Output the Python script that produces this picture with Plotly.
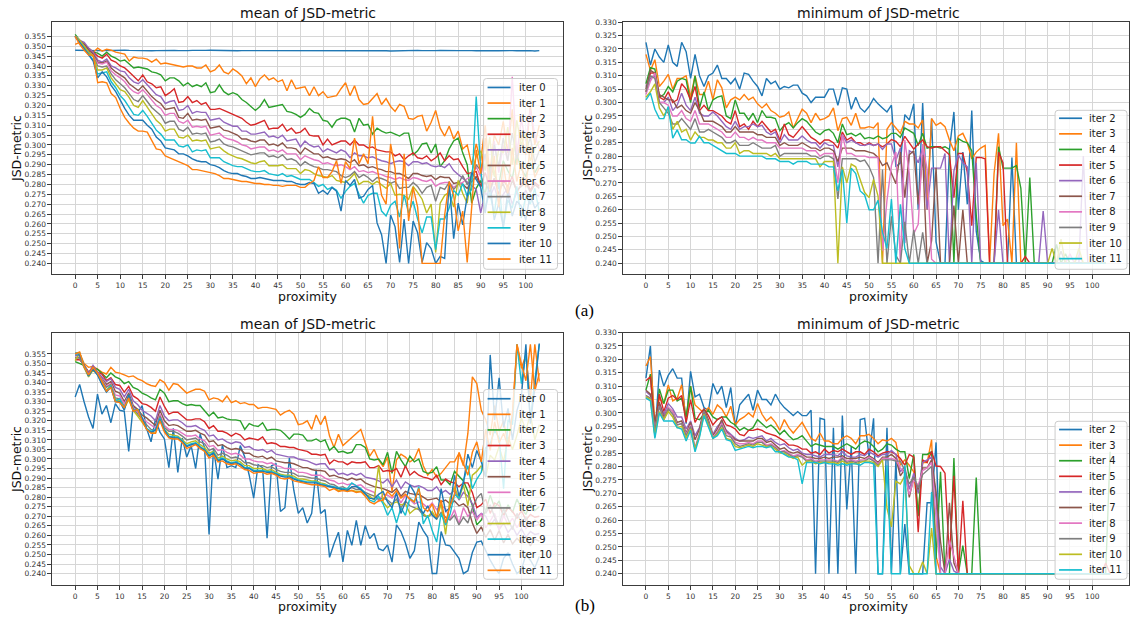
import plotly.graph_objects as go

# ---------------- data: (a) mean of JSD-metric, proximity 0..103 ----------------
a_mean_0 = [0.3480,0.3479,0.3478,0.3478,0.3477,0.3478,0.3478,0.3479,0.3478,0.3478,
0.3479,0.3480,0.3479,0.3478,0.3478,0.3479,0.3478,0.3477,0.3478,0.3479,
0.3478,0.3478,0.3479,0.3478,0.3477,0.3478,0.3479,0.3478,0.3478,0.3479,
0.3480,0.3479,0.3478,0.3478,0.3479,0.3478,0.3477,0.3478,0.3478,0.3479,
0.3478,0.3479,0.3478,0.3477,0.3478,0.3479,0.3478,0.3478,0.3477,0.3478,
0.3479,0.3478,0.3478,0.3479,0.3480,0.3479,0.3478,0.3477,0.3478,0.3478,
0.3477,0.3478,0.3479,0.3478,0.3478,0.3477,0.3478,0.3479,0.3478,0.3477,
0.3476,0.3477,0.3478,0.3478,0.3477,0.3478,0.3479,0.3478,0.3477,0.3478,
0.3478,0.3479,0.3478,0.3478,0.3477,0.3478,0.3478,0.3479,0.3478,0.3477,
0.3478,0.3478,0.3479,0.3478,0.3477,0.3478,0.3479,0.3478,0.3477,0.3478,
0.3477,0.3478,0.3476,0.3478]
a_mean_1 = [0.351,0.352,0.350,0.348,0.347,0.349,0.3475,0.3485,0.348,0.347,
0.3465,0.346,0.3425,0.3445,0.344,0.344,0.3435,0.342,0.3435,0.341,
0.3415,0.341,0.3405,0.340,0.3395,0.340,0.340,0.339,0.339,0.3405,
0.337,0.338,0.3405,0.337,0.336,0.3385,0.337,0.335,0.331,0.334,
0.3295,0.3335,0.3355,0.333,0.334,0.332,0.333,0.3275,0.333,0.3285,
0.329,0.3295,0.325,0.3295,0.325,0.327,0.324,0.3245,0.325,0.3285,
0.3315,0.325,0.330,0.323,0.3205,0.321,0.3235,0.326,0.3205,0.3235,
0.3195,0.317,0.3205,0.3195,0.3135,0.313,0.3145,0.315,0.307,0.3115,
0.3175,0.3085,0.3045,0.3095,0.303,0.307,0.298,0.300,0.290,0.3005,
0.292,0.310,0.285,0.305,0.300,0.312,0.296,0.318,0.290,0.305,
0.295,0.320,0.300,0.310]
a_mean_2 = [0.356,0.353,0.350,0.349,0.347,0.3465,0.345,0.347,0.345,0.344,
0.3425,0.343,0.341,0.339,0.3395,0.339,0.3385,0.337,0.3365,0.3355,
0.3325,0.334,0.334,0.3325,0.330,0.3315,0.3295,0.3305,0.3295,0.3315,
0.3265,0.327,0.3305,0.327,0.3255,0.3265,0.3255,0.323,0.3215,0.3195,
0.3175,0.3195,0.323,0.319,0.3195,0.320,0.3205,0.317,0.3165,0.3155,
0.314,0.3155,0.3185,0.3165,0.316,0.3125,0.312,0.309,0.3125,0.3135,
0.3135,0.3125,0.3065,0.3135,0.310,0.3105,0.3055,0.3085,0.307,0.306,
0.3065,0.3055,0.3045,0.306,0.306,0.295,0.297,0.3005,0.301,0.296,
0.3005,0.289,0.292,0.298,0.302,0.3035,0.296,0.290,0.2705,0.278,
0.282,0.275,0.290,0.285,0.280,0.292,0.287,0.283,0.295,0.288,
0.284,0.291,0.286,0.290]
a_mean_3 = [0.355,0.352,0.351,0.349,0.3475,0.345,0.344,0.346,0.343,0.342,
0.340,0.339,0.337,0.335,0.3325,0.3355,0.332,0.331,0.329,0.3295,
0.325,0.3265,0.3285,0.3215,0.322,0.3245,0.3215,0.3225,0.3205,0.3215,
0.318,0.318,0.3185,0.3175,0.3165,0.3155,0.3145,0.3135,0.3115,0.310,
0.3105,0.3115,0.3125,0.308,0.3085,0.3085,0.3105,0.307,0.3085,0.306,
0.3065,0.3085,0.305,0.3045,0.3045,0.300,0.303,0.300,0.301,0.302,
0.302,0.300,0.3025,0.300,0.300,0.2985,0.299,0.2975,0.297,0.2965,
0.2965,0.2945,0.2955,0.2925,0.2945,0.296,0.2935,0.293,0.2945,0.292,
0.2935,0.296,0.292,0.2945,0.2925,0.293,0.289,0.2855,0.286,0.2865,
0.279,0.286,0.278,0.283,0.275,0.282,0.279,0.284,0.276,0.280,
0.283,0.277,0.281,0.279]
a_mean_4 = [0.355,0.353,0.352,0.349,0.347,0.343,0.342,0.3435,0.340,0.339,
0.3375,0.337,0.334,0.332,0.331,0.333,0.3305,0.328,0.3255,0.3245,
0.321,0.322,0.3225,0.3175,0.318,0.320,0.316,0.317,0.3165,0.3165,
0.3125,0.313,0.3135,0.3115,0.3105,0.3095,0.3095,0.307,0.307,0.3055,
0.3055,0.306,0.3065,0.304,0.3045,0.3035,0.305,0.302,0.3025,0.303,
0.299,0.302,0.300,0.299,0.2995,0.2965,0.298,0.297,0.296,0.2975,
0.2965,0.2935,0.296,0.2945,0.2945,0.2935,0.294,0.293,0.292,0.2915,
0.2905,0.2915,0.292,0.2915,0.2895,0.2915,0.2915,0.2905,0.291,0.2895,
0.289,0.2895,0.2885,0.2905,0.287,0.285,0.283,0.281,0.279,0.2775,
0.2656,0.276,0.273,0.279,0.271,0.275,0.278,0.270,0.276,0.273,
0.277,0.272,0.275,0.274]
a_mean_5 = [0.355,0.353,0.351,0.348,0.346,0.342,0.3415,0.3425,0.339,0.337,
0.3355,0.334,0.331,0.329,0.3275,0.330,0.327,0.3245,0.3225,0.321,
0.318,0.3185,0.319,0.314,0.3135,0.316,0.3125,0.313,0.3125,0.313,
0.3085,0.309,0.3095,0.3075,0.307,0.306,0.305,0.303,0.303,0.302,
0.3015,0.3025,0.3025,0.300,0.3005,0.2995,0.301,0.2985,0.2985,0.298,
0.2955,0.2985,0.297,0.2955,0.2955,0.2935,0.294,0.293,0.2925,0.293,
0.2925,0.291,0.2925,0.2895,0.290,0.2885,0.289,0.288,0.2875,0.2865,
0.2865,0.2855,0.2855,0.2845,0.283,0.2855,0.2855,0.2845,0.284,0.2845,
0.2825,0.284,0.2835,0.2835,0.2805,0.281,0.280,0.278,0.2815,0.284,
0.279,0.281,0.276,0.283,0.278,0.280,0.275,0.282,0.277,0.279,
0.281,0.276,0.280,0.278]
a_mean_6 = [0.355,0.353,0.350,0.347,0.345,0.3415,0.341,0.342,0.3375,0.3355,
0.334,0.332,0.329,0.327,0.326,0.328,0.3255,0.3225,0.320,0.3185,
0.315,0.316,0.316,0.312,0.311,0.3125,0.309,0.3095,0.309,0.3095,
0.305,0.3055,0.306,0.304,0.303,0.3025,0.3015,0.300,0.2995,0.298,
0.2985,0.299,0.299,0.297,0.2975,0.2965,0.2975,0.2955,0.2955,0.2955,
0.2925,0.2945,0.2935,0.2925,0.292,0.2905,0.291,0.290,0.2895,0.290,
0.289,0.2875,0.289,0.2865,0.287,0.286,0.2865,0.2855,0.285,0.284,
0.2835,0.2825,0.2835,0.2825,0.282,0.2835,0.283,0.282,0.2815,0.2825,
0.279,0.2805,0.281,0.281,0.2785,0.280,0.281,0.283,0.284,0.289,
0.284,0.2955,0.278,0.302,0.286,0.300,0.292,0.3345,0.295,0.313,
0.302,0.318,0.305,0.298]
a_mean_7 = [0.355,0.353,0.350,0.347,0.345,0.340,0.3395,0.340,0.336,0.333,
0.331,0.329,0.326,0.323,0.322,0.325,0.322,0.319,0.317,0.315,
0.311,0.312,0.312,0.308,0.307,0.309,0.3055,0.306,0.3055,0.306,
0.3015,0.302,0.303,0.3005,0.2995,0.299,0.298,0.297,0.296,0.295,
0.2955,0.296,0.296,0.294,0.2945,0.2935,0.295,0.2925,0.293,0.292,
0.2895,0.2915,0.290,0.289,0.2885,0.2875,0.2875,0.287,0.2865,0.2845,
0.2835,0.2845,0.2865,0.2835,0.285,0.2835,0.2815,0.2835,0.283,0.282,
0.2805,0.2815,0.278,0.2785,0.2785,0.281,0.279,0.2755,0.2785,0.2795,
0.2715,0.2785,0.2775,0.281,0.2775,0.280,0.2845,0.280,0.2825,0.290,
0.287,0.2955,0.2825,0.300,0.289,0.3035,0.292,0.306,0.293,0.301,
0.296,0.304,0.291,0.297]
a_mean_8 = [0.355,0.353,0.350,0.347,0.345,0.338,0.338,0.339,0.334,0.331,
0.328,0.327,0.324,0.320,0.319,0.3225,0.319,0.3155,0.3125,0.3105,
0.307,0.308,0.308,0.304,0.3035,0.305,0.302,0.3025,0.302,0.3025,
0.298,0.2985,0.299,0.297,0.2955,0.2945,0.2935,0.293,0.292,0.291,
0.2905,0.2915,0.292,0.2895,0.2895,0.2895,0.290,0.288,0.288,0.288,
0.2855,0.2875,0.287,0.2855,0.2845,0.284,0.2835,0.2845,0.282,0.2815,
0.281,0.283,0.2855,0.280,0.2815,0.2815,0.280,0.2815,0.2795,0.278,
0.2805,0.2745,0.275,0.2745,0.2725,0.279,0.276,0.2725,0.2655,0.270,
0.2455,0.2705,0.2745,0.276,0.2685,0.282,0.2755,0.2705,0.286,0.294,
0.297,0.287,0.304,0.284,0.298,0.296,0.309,0.290,0.3125,0.300,
0.306,0.292,0.298,0.302]
a_mean_9 = [0.355,0.352,0.349,0.346,0.343,0.336,0.3365,0.337,0.332,0.329,
0.325,0.3225,0.319,0.3155,0.315,0.3175,0.3145,0.311,0.3075,0.3055,
0.3025,0.3025,0.3025,0.2995,0.299,0.300,0.2965,0.2975,0.297,0.2975,
0.2935,0.2935,0.2935,0.2915,0.2905,0.2895,0.289,0.289,0.288,0.287,
0.2865,0.2865,0.287,0.2855,0.285,0.2845,0.2855,0.284,0.2845,0.2835,
0.2825,0.2825,0.2825,0.281,0.279,0.280,0.2775,0.2785,0.277,0.273,
0.2765,0.279,0.2805,0.275,0.2705,0.2745,0.2755,0.2755,0.2665,0.264,
0.2695,0.2715,0.2635,0.2745,0.2655,0.2715,0.2625,0.2555,0.2635,0.2635,
0.247,0.2625,0.2625,0.268,0.277,0.2745,0.2805,0.274,0.2775,0.3245,
0.2875,0.268,0.276,0.265,0.282,0.258,0.272,0.268,0.279,0.263,
0.274,0.270,0.278,0.266]
a_mean_10 = [0.355,0.352,0.349,0.346,0.3425,0.334,0.337,0.3345,0.330,0.327,
0.3225,0.3185,0.315,0.3125,0.3125,0.3125,0.310,0.308,0.304,0.302,
0.2985,0.298,0.2975,0.2955,0.2955,0.2945,0.293,0.292,0.2915,0.2915,
0.290,0.2895,0.2885,0.287,0.286,0.2855,0.2855,0.2845,0.284,0.283,
0.283,0.2835,0.283,0.2825,0.282,0.282,0.282,0.2815,0.2815,0.2805,
0.280,0.280,0.281,0.2805,0.2755,0.277,0.275,0.2785,0.2765,0.2665,
0.282,0.2795,0.2825,0.273,0.274,0.2775,0.2795,0.2605,0.2545,0.240,
0.2645,0.2585,0.2405,0.2625,0.240,0.2615,0.2555,0.2405,0.2505,0.2475,
0.240,0.2435,0.2425,0.2815,0.2525,0.2705,0.2595,0.274,0.286,0.2825,
0.2785,0.2655,0.2825,0.262,0.2705,0.2585,0.276,0.264,0.2715,0.269,
0.262,0.275,0.268,0.271]
a_mean_11 = [0.355,0.351,0.348,0.3455,0.3455,0.3315,0.332,0.3315,0.326,0.324,
0.3185,0.314,0.311,0.3085,0.307,0.307,0.3065,0.3025,0.298,0.2975,
0.2945,0.2935,0.2925,0.2915,0.2905,0.2895,0.2875,0.2875,0.287,0.2865,
0.286,0.2855,0.2845,0.283,0.283,0.2825,0.282,0.2815,0.2815,0.281,
0.2805,0.2805,0.280,0.280,0.2795,0.2795,0.279,0.2795,0.2795,0.2795,
0.2785,0.2785,0.2805,0.282,0.289,0.2835,0.2835,0.2865,0.292,0.2805,
0.2915,0.288,0.3035,0.2905,0.2955,0.2905,0.3145,0.289,0.2745,0.270,
0.3005,0.288,0.2475,0.2955,0.2615,0.2785,0.2685,0.240,0.240,0.240,
0.240,0.240,0.2645,0.2815,0.2745,0.2565,0.2665,0.2405,0.2685,0.2975,
0.2855,0.3035,0.2775,0.2945,0.2685,0.2905,0.2755,0.2985,0.2815,0.2905,
0.2785,0.2995,0.2835,0.2885]

# ---------------- data: (a) minimum of JSD-metric ----------------
a_min_2 = [0.3225,0.314,0.320,0.317,0.315,0.3215,0.315,0.3135,0.3225,0.319,
0.309,0.318,0.310,0.306,0.310,0.311,0.314,0.309,0.309,0.307,
0.309,0.305,0.311,0.3105,0.308,0.306,0.3025,0.309,0.307,0.308,
0.305,0.306,0.3055,0.3065,0.3065,0.3035,0.3025,0.300,0.302,0.302,
0.302,0.305,0.305,0.299,0.3055,0.305,0.2975,0.302,0.298,0.2965,
0.2985,0.3015,0.2995,0.298,0.2965,0.299,0.276,0.2775,0.2955,0.2935,
0.2995,0.260,0.2998,0.262,0.294,0.248,0.24,0.24,0.2825,0.2965,
0.260,0.2815,0.262,0.297,0.252,0.241,0.24,0.24,0.24,0.24,
0.24,0.24,0.2795,0.24,0.24,0.24,0.24,0.24,0.24,0.24,
0.24,0.24,0.24,0.24,0.24,0.24,0.24,0.24,0.24,0.24,
0.24,0.24,0.24,0.24]
a_min_3 = [0.318,0.312,0.316,0.306,0.308,0.3105,0.305,0.309,0.309,0.310,
0.302,0.310,0.303,0.303,0.308,0.301,0.3085,0.3055,0.298,0.301,
0.302,0.301,0.303,0.301,0.302,0.2995,0.298,0.2995,0.297,0.296,
0.2945,0.295,0.2965,0.2905,0.294,0.2975,0.296,0.2925,0.296,0.2935,
0.294,0.295,0.298,0.2895,0.294,0.2945,0.2915,0.296,0.2905,0.2905,
0.291,0.2905,0.2925,0.24,0.290,0.2925,0.2905,0.2885,0.293,0.292,
0.292,0.2905,0.2935,0.260,0.294,0.2915,0.2925,0.291,0.286,0.282,
0.2875,0.2885,0.285,0.279,0.2815,0.283,0.284,0.24,0.2735,0.2885,
0.254,0.2565,0.24,0.285,0.24,0.24,0.24,0.24,0.24,0.24,
0.24,0.24,0.24,0.24,0.24,0.24,0.24,0.24,0.24,0.24,
0.24,0.24,0.24,0.24]
a_min_4 = [0.307,0.313,0.3125,0.302,0.303,0.306,0.304,0.308,0.309,0.3085,
0.300,0.310,0.298,0.304,0.297,0.301,0.302,0.3025,0.295,0.294,
0.301,0.296,0.296,0.2935,0.296,0.2925,0.297,0.2945,0.2945,0.294,
0.2895,0.2915,0.2925,0.2905,0.2925,0.294,0.293,0.291,0.289,0.288,
0.2895,0.290,0.2885,0.285,0.292,0.288,0.2885,0.2875,0.2885,0.2865,
0.287,0.2865,0.2875,0.2865,0.287,0.2885,0.2885,0.287,0.2905,0.2895,
0.2885,0.284,0.2885,0.283,0.2835,0.2835,0.283,0.2835,0.2825,0.24,
0.2865,0.2855,0.285,0.282,0.258,0.24,0.24,0.24,0.24,0.2835,
0.2755,0.2755,0.2755,0.2765,0.268,0.24,0.272,0.24,0.24,0.24,
0.24,0.24,0.247,0.24,0.2435,0.24,0.24,0.24,0.24,0.24,
0.24,0.24,0.24,0.24]
a_min_5 = [0.304,0.311,0.311,0.302,0.301,0.304,0.300,0.301,0.307,0.305,
0.301,0.306,0.297,0.299,0.297,0.297,0.296,0.295,0.293,0.292,
0.297,0.291,0.292,0.290,0.293,0.291,0.293,0.291,0.289,0.290,
0.286,0.292,0.288,0.287,0.289,0.291,0.289,0.287,0.286,0.2845,
0.286,0.286,0.285,0.283,0.289,0.286,0.287,0.285,0.285,0.284,
0.285,0.284,0.2845,0.2835,0.2845,0.2862,0.2855,0.2835,0.2874,0.285,
0.2826,0.2845,0.286,0.2835,0.283,0.2835,0.2835,0.282,0.2805,0.2645,
0.281,0.281,0.274,0.254,0.2795,0.2795,0.279,0.24,0.24,0.2815,
0.2775,0.24,0.24,0.24,0.24,0.2425,0.24,0.24,0.24,0.24,
0.24,0.24,0.24,0.24,0.24,0.24,0.24,0.24,0.24,0.24,
0.24,0.24,0.24,0.24]
a_min_6 = [0.306,0.309,0.310,0.300,0.300,0.302,0.297,0.299,0.3035,0.299,
0.297,0.302,0.296,0.295,0.295,0.2965,0.295,0.293,0.291,0.290,
0.293,0.290,0.291,0.291,0.292,0.291,0.2915,0.289,0.288,0.289,
0.285,0.288,0.286,0.286,0.286,0.2875,0.286,0.285,0.285,0.283,
0.285,0.284,0.284,0.276,0.288,0.285,0.286,0.285,0.284,0.284,
0.2845,0.284,0.2845,0.2825,0.2845,0.2845,0.2785,0.283,0.2475,0.282,
0.281,0.2775,0.283,0.260,0.2755,0.2755,0.2755,0.281,0.24,0.2745,
0.2805,0.2775,0.276,0.24,0.2775,0.24,0.24,0.24,0.24,0.260,
0.24,0.24,0.24,0.24,0.24,0.24,0.24,0.24,0.24,0.2595,
0.24,0.24,0.24,0.24,0.24,0.24,0.24,0.24,0.280,0.24,
0.24,0.24,0.24,0.24]
a_min_7 = [0.305,0.312,0.311,0.303,0.302,0.301,0.301,0.298,0.299,0.297,
0.296,0.300,0.297,0.293,0.293,0.293,0.292,0.291,0.289,0.289,
0.291,0.289,0.289,0.289,0.289,0.288,0.288,0.287,0.287,0.287,
0.284,0.285,0.284,0.284,0.284,0.285,0.284,0.283,0.283,0.282,
0.283,0.283,0.282,0.278,0.283,0.283,0.283,0.282,0.282,0.282,
0.2815,0.281,0.2795,0.2765,0.2775,0.2735,0.2697,0.2815,0.2645,0.2805,
0.282,0.262,0.2805,0.24,0.2484,0.2756,0.24,0.24,0.24,0.2615,
0.24,0.260,0.24,0.24,0.24,0.24,0.24,0.24,0.24,0.24,
0.24,0.24,0.24,0.24,0.24,0.24,0.24,0.24,0.24,0.24,
0.24,0.24,0.24,0.24,0.24,0.24,0.24,0.24,0.24,0.24,
0.24,0.24,0.24,0.24]
a_min_8 = [0.303,0.308,0.311,0.300,0.300,0.299,0.295,0.295,0.297,0.294,
0.293,0.297,0.292,0.292,0.292,0.291,0.290,0.289,0.287,0.287,
0.289,0.287,0.287,0.286,0.287,0.286,0.286,0.285,0.285,0.285,
0.283,0.283,0.283,0.283,0.283,0.283,0.282,0.282,0.282,0.280,
0.281,0.281,0.281,0.270,0.288,0.281,0.281,0.280,0.280,0.280,
0.2795,0.2795,0.2795,0.2445,0.2635,0.2765,0.2815,0.24,0.286,0.2735,
0.251,0.2545,0.2845,0.275,0.2415,0.24,0.24,0.24,0.24,0.24,
0.24,0.24,0.24,0.24,0.24,0.24,0.24,0.24,0.24,0.24,
0.24,0.24,0.24,0.24,0.24,0.24,0.24,0.24,0.24,0.24,
0.24,0.24,0.24,0.24,0.24,0.2435,0.24,0.243,0.24,0.24,
0.24,0.24,0.24,0.24]
a_min_9 = [0.304,0.310,0.309,0.300,0.298,0.296,0.292,0.292,0.294,0.292,
0.290,0.294,0.289,0.289,0.290,0.289,0.288,0.287,0.285,0.285,
0.286,0.284,0.284,0.284,0.285,0.284,0.283,0.283,0.283,0.284,
0.280,0.281,0.281,0.281,0.281,0.281,0.281,0.280,0.280,0.279,
0.280,0.280,0.279,0.264,0.279,0.279,0.279,0.279,0.278,0.2785,
0.276,0.272,0.24,0.275,0.24,0.2575,0.243,0.24,0.2555,0.24,
0.2525,0.24,0.2515,0.24,0.24,0.24,0.24,0.24,0.24,0.24,
0.24,0.24,0.24,0.24,0.24,0.24,0.24,0.24,0.24,0.24,
0.24,0.24,0.24,0.24,0.24,0.24,0.24,0.24,0.24,0.24,
0.24,0.24,0.24,0.2445,0.24,0.24,0.24,0.24,0.24,0.24,
0.24,0.24,0.24,0.24]
a_min_10 = [0.302,0.304,0.307,0.298,0.295,0.298,0.290,0.293,0.289,0.290,
0.286,0.289,0.287,0.287,0.286,0.286,0.285,0.285,0.283,0.283,
0.285,0.281,0.282,0.282,0.281,0.281,0.281,0.281,0.280,0.281,
0.279,0.279,0.279,0.279,0.279,0.279,0.279,0.279,0.279,0.276,
0.278,0.278,0.278,0.24,0.276,0.270,0.277,0.276,0.2713,0.2664,
0.2645,0.2713,0.2651,0.24,0.24,0.24,0.24,0.24,0.24,0.24,
0.24,0.24,0.24,0.24,0.24,0.24,0.24,0.24,0.24,0.24,
0.24,0.24,0.24,0.24,0.24,0.24,0.24,0.24,0.24,0.24,
0.24,0.24,0.24,0.24,0.24,0.24,0.24,0.24,0.24,0.24,
0.24,0.2455,0.24,0.249,0.24,0.24,0.24,0.2455,0.24,0.24,
0.24,0.24,0.24,0.24]
a_min_11 = [0.301,0.3035,0.2975,0.294,0.294,0.2985,0.2867,0.2898,0.2861,0.2861,
0.2849,0.2849,0.2874,0.285,0.285,0.284,0.283,0.282,0.281,0.281,
0.281,0.280,0.280,0.280,0.280,0.280,0.280,0.279,0.279,0.279,
0.278,0.278,0.278,0.277,0.278,0.278,0.278,0.277,0.277,0.277,
0.277,0.276,0.276,0.267,0.275,0.255,0.2755,0.2735,0.267,0.2655,
0.260,0.260,0.2635,0.2515,0.2455,0.264,0.24,0.262,0.2455,0.24,
0.24,0.24,0.24,0.24,0.24,0.24,0.24,0.24,0.24,0.24,
0.24,0.24,0.24,0.24,0.24,0.24,0.24,0.24,0.24,0.24,
0.24,0.24,0.24,0.24,0.24,0.24,0.24,0.24,0.24,0.24,
0.24,0.24,0.24,0.24,0.24,0.24,0.24,0.24,0.24,0.24,
0.24,0.24,0.24,0.24]

# ---------------- data: (b) mean of JSD-metric, proximity 0..104 ----------------
b_mean_0 = [0.3325,0.339,0.330,0.322,0.316,0.334,0.3235,0.328,0.319,0.329,
0.3255,0.325,0.304,0.328,0.324,0.328,0.316,0.309,0.321,0.314,
0.3105,0.2955,0.316,0.293,0.311,0.301,0.307,0.295,0.313,0.306,
0.2605,0.3055,0.2895,0.3075,0.2955,0.2965,0.2955,0.307,0.301,0.2915,
0.2795,0.297,0.2955,0.2585,0.2965,0.2975,0.2725,0.2745,0.3005,0.2835,
0.2715,0.2745,0.2665,0.2715,0.2945,0.2715,0.2735,0.2485,0.2556,0.2617,
0.2461,0.2626,0.2548,0.2678,0.2548,0.2652,0.2583,0.261,0.253,0.252,
0.255,0.246,0.2655,0.262,0.256,0.248,0.252,0.267,0.2625,0.259,
0.240,0.240,0.262,0.255,0.2545,0.2515,0.248,0.240,0.2415,0.251,
0.2565,0.257,0.252,0.247,0.243,0.240,0.248,0.251,0.245,0.240,
0.242,0.250,0.247,0.243,0.249]
b_mean_1 = [0.3555,0.3555,0.350,0.348,0.3485,0.347,0.3455,0.3445,0.348,0.3455,
0.345,0.344,0.343,0.3435,0.342,0.341,0.3395,0.3385,0.338,0.3415,
0.340,0.336,0.3395,0.339,0.337,0.3345,0.3355,0.3365,0.3365,0.3355,
0.331,0.332,0.3315,0.330,0.333,0.3295,0.3305,0.329,0.3295,0.3285,
0.3285,0.3265,0.327,0.327,0.3265,0.326,0.323,0.3245,0.3255,0.3235,
0.318,0.3185,0.320,0.3155,0.323,0.318,0.3225,0.312,0.306,0.313,
0.307,0.309,0.311,0.3135,0.3155,0.3085,0.3015,0.305,0.2995,0.296,
0.301,0.283,0.2995,0.3025,0.301,0.2985,0.300,0.3055,0.2965,0.2915,
0.2945,0.2905,0.2925,0.2955,0.2985,0.2985,0.303,0.2965,0.3135,0.343,
0.3395,0.3255,0.3205,0.3125,0.328,0.3145,0.320,0.3075,0.3225,0.360,
0.3475,0.3545,0.331,0.360,0.3405]
b_mean_2 = [0.351,0.350,0.349,0.3455,0.3475,0.347,0.345,0.3425,0.345,0.343,
0.342,0.3395,0.3405,0.3375,0.3365,0.3345,0.3335,0.332,0.331,0.3365,
0.3345,0.330,0.3305,0.3305,0.329,0.328,0.3285,0.328,0.328,0.3255,
0.3225,0.3245,0.3215,0.322,0.321,0.3205,0.3205,0.320,0.3155,0.3185,
0.3175,0.317,0.319,0.315,0.3155,0.3155,0.315,0.313,0.3105,0.313,
0.313,0.3125,0.3095,0.3095,0.3105,0.309,0.310,0.3045,0.3065,0.3035,
0.304,0.303,0.3035,0.3075,0.3075,0.306,0.300,0.2995,0.300,0.297,
0.3035,0.2925,0.304,0.2995,0.296,0.3015,0.2985,0.300,0.2935,0.2925,
0.293,0.296,0.289,0.289,0.2865,0.2935,0.291,0.2885,0.283,0.2755,
0.2655,0.268,0.273,0.281,0.2745,0.278,0.270,0.276,0.272,0.279,
0.274,0.271,0.277,0.273,0.275]
b_mean_3 = [0.352,0.352,0.349,0.3455,0.347,0.3455,0.3445,0.341,0.3425,0.339,
0.3385,0.335,0.338,0.333,0.3315,0.329,0.3285,0.327,0.325,0.3325,
0.3275,0.3235,0.3245,0.3245,0.3225,0.3205,0.3205,0.321,0.321,0.3195,
0.316,0.3175,0.3145,0.3145,0.3135,0.312,0.3135,0.3125,0.310,0.311,
0.3105,0.310,0.3115,0.308,0.3085,0.308,0.3065,0.3065,0.306,0.306,
0.305,0.3045,0.304,0.3025,0.3025,0.302,0.3025,0.2975,0.2995,0.2985,
0.2985,0.297,0.2985,0.298,0.298,0.2985,0.2955,0.2955,0.2965,0.2935,
0.294,0.2935,0.295,0.2905,0.2965,0.2915,0.2935,0.2915,0.2905,0.290,
0.289,0.2915,0.2865,0.2895,0.288,0.2875,0.2855,0.2875,0.2875,0.2825,
0.2745,0.276,0.279,0.2715,0.277,0.2755,0.2705,0.2745,0.2725,0.269,
0.273,0.268,0.271,0.2695,0.270]
b_mean_4 = [0.354,0.354,0.349,0.345,0.349,0.3455,0.343,0.3405,0.342,0.3375,
0.3365,0.3325,0.3365,0.3305,0.3285,0.3255,0.324,0.3225,0.320,0.328,
0.3225,0.320,0.3205,0.3205,0.319,0.317,0.317,0.3175,0.316,0.315,
0.312,0.3125,0.310,0.3105,0.309,0.308,0.309,0.3085,0.306,0.3065,
0.305,0.3045,0.305,0.3035,0.3045,0.3025,0.302,0.3015,0.301,0.301,
0.300,0.2995,0.299,0.298,0.297,0.2975,0.2975,0.2945,0.2945,0.292,
0.2925,0.2915,0.2925,0.2915,0.2925,0.2905,0.290,0.2895,0.2885,0.2875,
0.2895,0.2855,0.289,0.2845,0.288,0.2865,0.2855,0.286,0.285,0.2835,
0.2835,0.2855,0.282,0.2835,0.2815,0.2835,0.2785,0.2825,0.2805,0.2765,
0.2695,0.2715,0.270,0.265,0.2685,0.263,0.2665,0.2615,0.2645,0.260,
0.2635,0.259,0.262,0.2605,0.261]
b_mean_5 = [0.353,0.353,0.349,0.344,0.348,0.345,0.342,0.339,0.3405,0.3355,
0.3345,0.330,0.3345,0.328,0.326,0.323,0.3215,0.3195,0.3175,0.3255,
0.320,0.3175,0.318,0.3175,0.316,0.3145,0.3145,0.315,0.3135,0.3125,
0.309,0.3095,0.307,0.3075,0.306,0.305,0.3055,0.305,0.303,0.303,
0.3015,0.301,0.3015,0.300,0.301,0.299,0.2985,0.298,0.298,0.2975,
0.2965,0.2955,0.2955,0.2945,0.294,0.294,0.2935,0.291,0.2915,0.2905,
0.290,0.289,0.290,0.289,0.2895,0.2875,0.2865,0.2855,0.285,0.2845,
0.2835,0.2825,0.2845,0.2805,0.283,0.282,0.2815,0.2815,0.280,0.2785,
0.279,0.2795,0.2775,0.2785,0.2765,0.278,0.2755,0.2765,0.2745,0.2665,
0.261,0.2645,0.259,0.263,0.2575,0.2625,0.256,0.2605,0.2555,0.2585,
0.256,0.2595,0.2545,0.258,0.257]
b_mean_6 = [0.3535,0.353,0.349,0.344,0.3475,0.345,0.3415,0.338,0.3395,0.3335,
0.333,0.329,0.333,0.327,0.3245,0.3215,0.3195,0.3175,0.316,0.3235,
0.3175,0.3155,0.3155,0.315,0.3135,0.312,0.312,0.3125,0.3105,0.3095,
0.3065,0.307,0.3045,0.305,0.3035,0.3025,0.303,0.302,0.300,0.300,
0.299,0.2985,0.2985,0.2975,0.298,0.2965,0.296,0.295,0.295,0.2945,
0.293,0.293,0.2925,0.2915,0.2915,0.2915,0.290,0.289,0.2885,0.287,
0.2875,0.2865,0.287,0.286,0.2865,0.2845,0.2835,0.2825,0.278,0.2815,
0.281,0.2795,0.2815,0.277,0.281,0.279,0.2765,0.2775,0.2765,0.2745,
0.277,0.2735,0.2755,0.274,0.2685,0.2735,0.266,0.2745,0.270,0.2725,
0.268,0.2715,0.264,0.2675,0.2715,0.263,0.2705,0.2655,0.269,0.264,
0.268,0.2635,0.267,0.265,0.266]
b_mean_7 = [0.353,0.353,0.348,0.3435,0.347,0.3445,0.341,0.3375,0.339,0.332,
0.3315,0.3275,0.332,0.326,0.3235,0.3205,0.318,0.3155,0.315,0.3225,
0.3165,0.3145,0.3145,0.3135,0.312,0.310,0.3105,0.311,0.309,0.308,
0.3045,0.3055,0.302,0.303,0.302,0.3005,0.301,0.300,0.298,0.298,
0.297,0.2965,0.2965,0.2955,0.296,0.2945,0.2935,0.293,0.293,0.2925,
0.291,0.291,0.2905,0.290,0.290,0.289,0.2885,0.287,0.2865,0.285,
0.2855,0.284,0.285,0.284,0.284,0.2825,0.2815,0.2805,0.279,0.2795,
0.2785,0.2765,0.279,0.2745,0.278,0.2755,0.2745,0.2735,0.2705,0.2695,
0.2715,0.2685,0.272,0.2695,0.268,0.2705,0.2655,0.2695,0.2665,0.2745,
0.2795,0.282,0.2715,0.276,0.2695,0.2655,0.274,0.2685,0.263,0.2715,
0.2665,0.2695,0.265,0.268,0.2665]
b_mean_8 = [0.3515,0.3555,0.348,0.343,0.3465,0.3445,0.3405,0.336,0.3385,0.331,
0.3305,0.3265,0.331,0.3255,0.3225,0.3195,0.316,0.314,0.3135,0.321,
0.3155,0.313,0.3125,0.312,0.310,0.308,0.309,0.3095,0.3075,0.306,
0.303,0.304,0.3005,0.3015,0.300,0.299,0.2995,0.2985,0.2965,0.2965,
0.295,0.295,0.295,0.294,0.2945,0.293,0.292,0.2915,0.2915,0.291,
0.2895,0.2895,0.289,0.2885,0.2885,0.2875,0.287,0.2855,0.285,0.2835,
0.284,0.2835,0.2835,0.283,0.283,0.2815,0.2805,0.2785,0.2965,0.2775,
0.2745,0.2765,0.2775,0.276,0.2765,0.2715,0.2735,0.2745,0.2715,0.2695,
0.2725,0.2685,0.2765,0.2605,0.2795,0.2855,0.279,0.2865,0.2755,0.2915,
0.2935,0.2965,0.2905,0.302,0.2995,0.3065,0.2985,0.3115,0.305,0.3125,
0.3215,0.315,0.3235,0.310,0.318]
b_mean_9 = [0.3555,0.3555,0.349,0.3435,0.3475,0.3445,0.3395,0.3355,0.3385,0.3305,
0.3315,0.3265,0.3335,0.3255,0.326,0.3215,0.316,0.3145,0.3155,0.3215,
0.3155,0.312,0.3115,0.3115,0.3095,0.307,0.308,0.3085,0.3065,0.305,
0.302,0.3035,0.2995,0.3005,0.299,0.298,0.2985,0.2975,0.2955,0.2955,
0.294,0.294,0.294,0.2935,0.2935,0.2925,0.2915,0.291,0.291,0.290,
0.289,0.2885,0.288,0.288,0.288,0.287,0.2865,0.286,0.2855,0.285,
0.2845,0.2845,0.2875,0.286,0.2845,0.282,0.2785,0.2775,0.2805,0.2765,
0.2705,0.2745,0.2665,0.2745,0.2705,0.2795,0.2775,0.2855,0.266,0.2705,
0.2625,0.2565,0.2715,0.2655,0.271,0.2815,0.2795,0.2885,0.2965,0.2845,
0.2895,0.293,0.306,0.308,0.315,0.311,0.2845,0.3205,0.318,0.360,
0.3395,0.3555,0.3205,0.341,0.360]
b_mean_10 = [0.3545,0.3545,0.349,0.3435,0.347,0.344,0.339,0.335,0.3375,0.330,
0.330,0.3255,0.3335,0.325,0.326,0.3215,0.3155,0.314,0.315,0.3205,
0.315,0.3115,0.311,0.311,0.309,0.3065,0.3075,0.308,0.306,0.3045,
0.3015,0.303,0.299,0.300,0.2985,0.2975,0.298,0.297,0.295,0.295,
0.2935,0.2935,0.2935,0.293,0.293,0.292,0.291,0.2905,0.2905,0.2895,
0.2885,0.288,0.2875,0.2875,0.2875,0.2865,0.286,0.2855,0.285,0.2845,
0.284,0.2835,0.2855,0.2855,0.284,0.2815,0.2795,0.279,0.2815,0.283,
0.2775,0.2745,0.2825,0.2715,0.2775,0.2865,0.2825,0.2745,0.2715,0.2755,
0.2705,0.2685,0.2845,0.2725,0.2745,0.2915,0.2805,0.2875,0.3025,0.2955,
0.3045,0.2985,0.2905,0.3545,0.3205,0.3425,0.3165,0.3265,0.310,0.3255,
0.333,0.360,0.3185,0.3375,0.3605]
b_mean_11 = [0.355,0.356,0.3485,0.344,0.348,0.345,0.3405,0.3355,0.3375,0.330,
0.3295,0.327,0.332,0.325,0.326,0.320,0.3155,0.3135,0.3135,0.320,
0.314,0.311,0.3105,0.3105,0.3085,0.3055,0.3065,0.3075,0.3055,0.304,
0.3005,0.302,0.2985,0.299,0.2975,0.297,0.2975,0.296,0.2945,0.294,
0.2925,0.293,0.293,0.292,0.2925,0.2915,0.290,0.2895,0.290,0.2885,
0.288,0.2875,0.287,0.2865,0.2865,0.286,0.2855,0.2835,0.2845,0.283,
0.2835,0.283,0.2835,0.2825,0.283,0.2805,0.2775,0.2765,0.278,0.2785,
0.283,0.2805,0.2835,0.2795,0.2815,0.279,0.2775,0.2845,0.2745,0.2725,
0.2765,0.2695,0.2785,0.2665,0.2755,0.2815,0.3035,0.2975,0.2915,0.3035,
0.309,0.2985,0.3155,0.3045,0.3195,0.3085,0.3135,0.3065,0.3245,0.360,
0.3495,0.341,0.360,0.3355,0.345]

# ---------------- data: (b) minimum of JSD-metric ----------------
b_min_2 = [0.313,0.325,0.291,0.316,0.310,0.314,0.3165,0.313,0.313,0.296,
0.3155,0.306,0.307,0.302,0.301,0.311,0.307,0.310,0.302,0.3095,
0.295,0.303,0.305,0.307,0.301,0.3085,0.305,0.305,0.303,0.307,
0.304,0.302,0.3005,0.299,0.3005,0.299,0.299,0.301,0.24,0.298,
0.2975,0.24,0.2945,0.24,0.299,0.264,0.2875,0.24,0.2975,0.298,
0.2835,0.298,0.24,0.24,0.2945,0.24,0.2825,0.24,0.2585,0.24,
0.24,0.24,0.24,0.2665,0.2665,0.289,0.24,0.24,0.24,0.24,
0.24,0.24,0.24,0.24,0.24,0.24,0.24,0.24,0.24,0.24,
0.24,0.24,0.24,0.24,0.24,0.24,0.24,0.24,0.24,0.24,
0.24,0.24,0.24,0.24,0.24,0.24,0.24,0.24,0.24,0.24,
0.24,0.24,0.24,0.24,0.24]
b_min_3 = [0.3175,0.321,0.296,0.3055,0.3035,0.3105,0.3045,0.3055,0.3105,0.2975,
0.310,0.303,0.3015,0.300,0.302,0.2995,0.303,0.3015,0.2985,0.3025,
0.2955,0.2975,0.2985,0.300,0.2985,0.3035,0.2995,0.297,0.2985,0.2965,
0.2935,0.2975,0.2945,0.2925,0.2945,0.2965,0.2935,0.2905,0.2895,0.2925,
0.2895,0.2895,0.2885,0.2885,0.2905,0.2915,0.2905,0.2885,0.2915,0.2915,
0.292,0.2905,0.2885,0.290,0.2895,0.2905,0.289,0.2805,0.2825,0.2805,
0.278,0.2625,0.2815,0.2815,0.290,0.2465,0.24,0.24,0.24,0.24,
0.24,0.24,0.24,0.24,0.24,0.24,0.24,0.24,0.24,0.24,
0.24,0.24,0.24,0.24,0.24,0.24,0.24,0.24,0.24,0.24,
0.24,0.24,0.24,0.24,0.24,0.24,0.24,0.24,0.24,0.24,
0.24,0.24,0.24,0.24,0.24]
b_min_4 = [0.3085,0.3145,0.2915,0.309,0.3035,0.3085,0.3085,0.3045,0.3055,0.2985,
0.310,0.298,0.2975,0.2995,0.301,0.2985,0.2975,0.2985,0.2985,0.2965,
0.2955,0.2935,0.2945,0.2935,0.2945,0.2975,0.296,0.2945,0.2955,0.294,
0.292,0.2935,0.2915,0.290,0.2905,0.2915,0.2895,0.2875,0.2885,0.288,
0.2875,0.2875,0.2875,0.2865,0.2875,0.2885,0.2875,0.2865,0.2885,0.2895,
0.289,0.2875,0.2855,0.2865,0.2885,0.288,0.2865,0.2855,0.2855,0.2755,
0.2845,0.2615,0.2845,0.2845,0.2855,0.2455,0.278,0.24,0.24,0.2832,
0.24,0.2505,0.24,0.24,0.2759,0.24,0.24,0.24,0.24,0.24,
0.24,0.24,0.24,0.24,0.24,0.24,0.24,0.24,0.24,0.24,
0.24,0.24,0.24,0.24,0.24,0.24,0.24,0.24,0.24,0.24,
0.24,0.24,0.24,0.24,0.2855]
b_min_5 = [0.312,0.3135,0.2945,0.307,0.3005,0.3055,0.3065,0.305,0.3065,0.2965,
0.305,0.2965,0.2995,0.3015,0.299,0.2955,0.2975,0.2985,0.2955,0.295,
0.294,0.292,0.2915,0.2935,0.2935,0.294,0.2935,0.2925,0.292,0.2915,
0.2905,0.2895,0.288,0.288,0.2875,0.2865,0.2865,0.285,0.2855,0.2845,
0.2865,0.285,0.286,0.2855,0.2865,0.2855,0.2845,0.2855,0.2855,0.2845,
0.2865,0.2855,0.284,0.285,0.2855,0.2855,0.2845,0.283,0.2805,0.2845,
0.2835,0.2555,0.2825,0.2815,0.2857,0.2802,0.280,0.2775,0.2455,0.2765,
0.24,0.2672,0.24,0.24,0.24,0.24,0.24,0.24,0.24,0.24,
0.24,0.24,0.24,0.24,0.24,0.24,0.24,0.24,0.24,0.24,
0.24,0.24,0.24,0.24,0.24,0.24,0.24,0.24,0.24,0.24,
0.24,0.24,0.24,0.244,0.24]
b_min_6 = [0.308,0.3065,0.2935,0.3035,0.2995,0.3035,0.3015,0.2985,0.2985,0.294,
0.297,0.2915,0.2945,0.3005,0.2965,0.292,0.295,0.2965,0.2935,0.292,
0.2905,0.2895,0.290,0.291,0.2905,0.291,0.2915,0.2895,0.2905,0.289,
0.288,0.2885,0.287,0.286,0.2865,0.285,0.2845,0.2845,0.284,0.2835,
0.2845,0.2845,0.2845,0.284,0.2855,0.284,0.2835,0.2835,0.2845,0.284,
0.2855,0.2845,0.2835,0.2845,0.2845,0.286,0.2845,0.278,0.280,0.2715,
0.2775,0.270,0.2815,0.2825,0.2835,0.268,0.2425,0.24,0.2455,0.241,
0.24,0.24,0.24,0.24,0.24,0.24,0.24,0.24,0.24,0.24,
0.24,0.24,0.24,0.24,0.24,0.24,0.24,0.24,0.24,0.24,
0.24,0.24,0.24,0.24,0.24,0.24,0.24,0.24,0.24,0.24,
0.24,0.24,0.24,0.24,0.24]
b_min_7 = [0.3085,0.307,0.2965,0.304,0.2985,0.302,0.3005,0.2965,0.297,0.2925,
0.2965,0.290,0.294,0.3015,0.2975,0.2915,0.294,0.2975,0.293,0.2915,
0.290,0.2895,0.2895,0.2895,0.2895,0.2905,0.2905,0.289,0.2895,0.288,
0.2865,0.287,0.2855,0.285,0.2855,0.2845,0.2835,0.2835,0.283,0.283,
0.2835,0.283,0.2835,0.2835,0.284,0.283,0.283,0.283,0.2835,0.283,
0.284,0.283,0.2815,0.2835,0.2835,0.2845,0.283,0.2765,0.279,0.2685,
0.276,0.2715,0.2795,0.2795,0.2825,0.2705,0.252,0.24,0.2665,0.244,
0.24,0.24,0.24,0.24,0.24,0.24,0.24,0.24,0.24,0.24,
0.24,0.24,0.24,0.24,0.24,0.24,0.24,0.24,0.24,0.24,
0.24,0.24,0.24,0.24,0.24,0.24,0.24,0.24,0.24,0.24,
0.24,0.24,0.24,0.24,0.24]
b_min_8 = [0.3065,0.3055,0.2935,0.3025,0.2975,0.302,0.3005,0.2955,0.296,0.292,
0.2955,0.287,0.2925,0.3005,0.2965,0.291,0.293,0.296,0.2925,0.2915,
0.289,0.2885,0.2885,0.289,0.2885,0.2895,0.2895,0.288,0.2885,0.2875,
0.2855,0.286,0.285,0.284,0.2845,0.284,0.2825,0.283,0.282,0.2825,
0.2825,0.2825,0.2825,0.282,0.2835,0.282,0.2825,0.282,0.2825,0.2825,
0.2835,0.2825,0.281,0.283,0.283,0.283,0.2825,0.2795,0.2775,0.2695,
0.275,0.273,0.2785,0.2795,0.2815,0.262,0.24,0.24,0.2525,0.2465,
0.24,0.24,0.24,0.24,0.24,0.24,0.24,0.24,0.24,0.24,
0.24,0.24,0.24,0.24,0.24,0.24,0.24,0.24,0.24,0.24,
0.24,0.24,0.24,0.24,0.24,0.24,0.24,0.24,0.24,0.24,
0.24,0.24,0.24,0.24,0.24]
b_min_9 = [0.3065,0.3055,0.2935,0.3025,0.2975,0.3015,0.2995,0.2955,0.296,0.2915,
0.295,0.2865,0.292,0.3005,0.2965,0.2905,0.2925,0.2955,0.2915,0.291,
0.2885,0.2875,0.288,0.2885,0.288,0.289,0.289,0.2875,0.288,0.287,
0.2855,0.2855,0.2845,0.2835,0.284,0.2835,0.282,0.2825,0.2815,0.282,
0.282,0.282,0.282,0.2815,0.283,0.2815,0.282,0.2815,0.282,0.282,
0.283,0.282,0.2805,0.2825,0.2825,0.2825,0.282,0.282,0.2785,0.2735,
0.276,0.272,0.277,0.2785,0.280,0.24,0.24,0.24,0.24,0.24,
0.24,0.24,0.24,0.24,0.24,0.24,0.24,0.24,0.24,0.24,
0.24,0.24,0.24,0.24,0.24,0.24,0.24,0.24,0.24,0.24,
0.24,0.24,0.24,0.24,0.24,0.24,0.24,0.24,0.24,0.24,
0.24,0.24,0.24,0.24,0.24]
b_min_10 = [0.306,0.305,0.2915,0.3005,0.2975,0.3005,0.2985,0.2945,0.295,0.2905,
0.294,0.2865,0.2915,0.2995,0.2955,0.2905,0.292,0.2945,0.2905,0.290,
0.2875,0.287,0.2875,0.288,0.2875,0.2885,0.288,0.2875,0.2875,0.2865,
0.285,0.285,0.284,0.283,0.2835,0.2805,0.282,0.282,0.281,0.2815,
0.2815,0.2815,0.2815,0.281,0.282,0.281,0.2815,0.281,0.2815,0.282,
0.282,0.2815,0.280,0.2825,0.2645,0.2575,0.2745,0.2735,0.2765,0.243,
0.24,0.24,0.2445,0.24,0.257,0.24,0.24,0.24,0.24,0.24,
0.24,0.24,0.24,0.24,0.24,0.24,0.24,0.24,0.24,0.24,
0.24,0.24,0.24,0.24,0.24,0.24,0.24,0.24,0.24,0.24,
0.24,0.24,0.24,0.24,0.24,0.24,0.24,0.24,0.24,0.24,
0.24,0.24,0.24,0.24,0.24]
b_min_11 = [0.3055,0.3045,0.2905,0.300,0.297,0.297,0.297,0.2945,0.294,0.2895,
0.2935,0.2855,0.291,0.299,0.295,0.2905,0.2915,0.294,0.290,0.2895,
0.286,0.2865,0.287,0.2875,0.287,0.2875,0.2875,0.287,0.2875,0.2855,
0.2855,0.2845,0.2835,0.2835,0.2825,0.2735,0.2815,0.2815,0.2815,0.281,
0.2815,0.281,0.281,0.2805,0.281,0.2805,0.281,0.281,0.2805,0.2815,
0.2815,0.281,0.24,0.24,0.2805,0.24,0.24,0.24,0.2805,0.24,
0.24,0.24,0.24,0.24,0.2705,0.24,0.24,0.24,0.24,0.24,
0.24,0.24,0.24,0.24,0.24,0.24,0.24,0.24,0.24,0.24,
0.24,0.24,0.24,0.24,0.24,0.24,0.24,0.24,0.24,0.24,
0.24,0.24,0.24,0.24,0.24,0.24,0.24,0.24,0.24,0.24,
0.24,0.24,0.24,0.24,0.24]

mean_names = ["iter %d" % i for i in range(12)]
min_names = ["iter %d" % i for i in range(2, 12)]
x_tick_vals = list(range(0, 101, 5))
y_ticks_mean = [0.240, 0.245, 0.250, 0.255, 0.260, 0.265, 0.270, 0.275, 0.280, 0.285, 0.290, 0.295,
                0.300, 0.305, 0.310, 0.315, 0.320, 0.325, 0.330, 0.335, 0.340, 0.345, 0.350, 0.355]
y_ticks_min = [0.240, 0.245, 0.250, 0.255, 0.260, 0.265, 0.270, 0.275, 0.280, 0.285, 0.290, 0.295,
               0.300, 0.305, 0.310, 0.315, 0.320, 0.325, 0.330]

TAB10 = ['#1f77b4', '#ff7f0e', '#2ca02c', '#d62728', '#9467bd',
         '#8c564b', '#e377c2', '#7f7f7f', '#bcbd22', '#17becf']

a_mean_series = [a_mean_0, a_mean_1, a_mean_2, a_mean_3, a_mean_4, a_mean_5,
                 a_mean_6, a_mean_7, a_mean_8, a_mean_9, a_mean_10, a_mean_11]
a_min_series = [a_min_2, a_min_3, a_min_4, a_min_5, a_min_6, a_min_7,
                a_min_8, a_min_9, a_min_10, a_min_11]
b_mean_series = [b_mean_0, b_mean_1, b_mean_2, b_mean_3, b_mean_4, b_mean_5,
                 b_mean_6, b_mean_7, b_mean_8, b_mean_9, b_mean_10, b_mean_11]
b_min_series = [b_min_2, b_min_3, b_min_4, b_min_5, b_min_6, b_min_7,
                b_min_8, b_min_9, b_min_10, b_min_11]

W, H = 1130, 619
FONT = "DejaVu Sans"

def PX(x):
    return x / W

def PY(y):
    return 1 - y / H

fig = go.Figure()


def add_panel(series, names, xa, ya):
    for i, (vals, name) in enumerate(zip(series, names)):
        fig.add_trace(go.Scatter(
            x=list(range(len(vals))), y=vals, mode="lines", name=name,
            line=dict(color=TAB10[i % 10], width=1.4),
            xaxis=xa, yaxis=ya, showlegend=False, hoverinfo="skip"))


add_panel(a_mean_series, mean_names, "x", "y")
add_panel(a_min_series, min_names, "x2", "y2")
add_panel(b_mean_series, mean_names, "x3", "y3")
add_panel(b_min_series, min_names, "x4", "y4")

axis_common = dict(showline=True, mirror=True, linecolor="#3c3c3c", linewidth=1,
                   ticks="outside", ticklen=3.5, tickcolor="#3c3c3c", tickwidth=1,
                   showgrid=True, gridcolor="#d6d6d6", gridwidth=1, zeroline=False,
                   tickfont=dict(family=FONT, size=7.5, color="#333333"))

xl = [PX(52), PX(563)]
xr = [PX(623.3), 1.0]
yt = [PY(272), PY(18.3)]
yb = [PY(585), PY(330.7)]

def xaxis(domain, anchor, rng):
    return dict(axis_common, domain=domain, anchor=anchor, range=rng,
                tickmode="array", tickvals=x_tick_vals, ticktext=[str(v) for v in x_tick_vals])

def yaxis(domain, anchor, rng, ticks):
    return dict(axis_common, domain=domain, anchor=anchor, range=rng,
                tickmode="array", tickvals=ticks, ticktext=["%.3f" % v for v in ticks])

ann = []
shapes = []

def text(x, y, s, size, angle=0, family=FONT, color="#111111", anchor="center"):
    ann.append(dict(x=PX(x), y=PY(y), xref="paper", yref="paper", text=s, showarrow=False,
                    xanchor=anchor, yanchor="middle", textangle=angle,
                    font=dict(family=family, size=size, color=color)))

def legend_box(names, x0, y0, x1, y1, lx0, lx1, tx, fy, step=15.7, r=3):
    # rounded frame (matplotlib-like legend), drawn above the lines
    path = ("M %f,%f L %f,%f Q %f,%f %f,%f L %f,%f Q %f,%f %f,%f L %f,%f Q %f,%f %f,%f "
            "L %f,%f Q %f,%f %f,%f Z") % (
        PX(x0 + r), PY(y0), PX(x1 - r), PY(y0), PX(x1), PY(y0), PX(x1), PY(y0 + r),
        PX(x1), PY(y1 - r), PX(x1), PY(y1), PX(x1 - r), PY(y1),
        PX(x0 + r), PY(y1), PX(x0), PY(y1), PX(x0), PY(y1 - r),
        PX(x0), PY(y0 + r), PX(x0), PY(y0), PX(x0 + r), PY(y0))
    shapes.append(dict(type="path", path=path, xref="paper", yref="paper", layer="above",
                       fillcolor="rgba(255,255,255,0.8)", line=dict(color="#cccccc", width=1)))
    for i, name in enumerate(names):
        yy = fy + i * step
        shapes.append(dict(type="line", xref="paper", yref="paper", layer="above",
                           x0=PX(lx0), x1=PX(lx1), y0=PY(yy), y1=PY(yy),
                           line=dict(color=TAB10[i % 10], width=1.7)))
        text(tx, yy, name, 10, color="#1a1a1a", anchor="left")

legend_box(mean_names, 484, 75, 558, 267, 488, 511, 517, 84.0)
legend_box(min_names, 1056, 107, 1128, 267, 1060, 1083, 1088, 115.0)
legend_box(mean_names, 484, 388, 558, 579, 488, 511, 517, 397.3)
legend_box(min_names, 1056, 420, 1128, 579, 1060, 1083, 1088, 428.3)

text(308, 9, "mean of JSD-metric", 14)
text(879, 9, "minimum of JSD-metric", 14)
text(308, 322, "mean of JSD-metric", 14)
text(879, 322, "minimum of JSD-metric", 14)
text(308, 294, "proximity", 12.5)
text(879, 294, "proximity", 12.5)
text(308, 606, "proximity", 12.5)
text(879, 606, "proximity", 12.5)
text(16, 145, "JSD-metric", 12.5, -90)
text(588, 145, "JSD-metric", 12.5, -90)
text(16, 458, "JSD-metric", 12.5, -90)
text(588, 458, "JSD-metric", 12.5, -90)
text(585, 308, "(a)", 17, family="Liberation Serif", color="#000000")
text(586, 605, "(b)", 17, family="Liberation Serif", color="#000000")

fig.update_layout(
    width=W, height=H, margin=dict(l=0, r=0, t=0, b=0),
    paper_bgcolor="white", plot_bgcolor="white",
    showlegend=False,
    xaxis=xaxis(xl, "y", [-5.15, 108.15]),
    yaxis=yaxis(yt, "x", [0.2345, 0.3622], y_ticks_mean),
    xaxis2=xaxis(xr, "y2", [-5.2, 108.23]),
    yaxis2=yaxis(yt, "x2", [0.2359, 0.3300], y_ticks_min),
    xaxis3=xaxis(xl, "y3", [-5.2, 109.2]),
    yaxis3=yaxis(yb, "x3", [0.2339, 0.3662], y_ticks_mean),
    xaxis4=xaxis(xr, "y4", [-5.2, 108.23]),
    yaxis4=yaxis(yb, "x4", [0.2357, 0.3300], y_ticks_min),
    annotations=ann,
    shapes=shapes,
)

fig.write_html("out.html",
               config={"displayModeBar": False},
               post_script="document.body.style.margin='0';document.body.style.overflow='hidden';")
